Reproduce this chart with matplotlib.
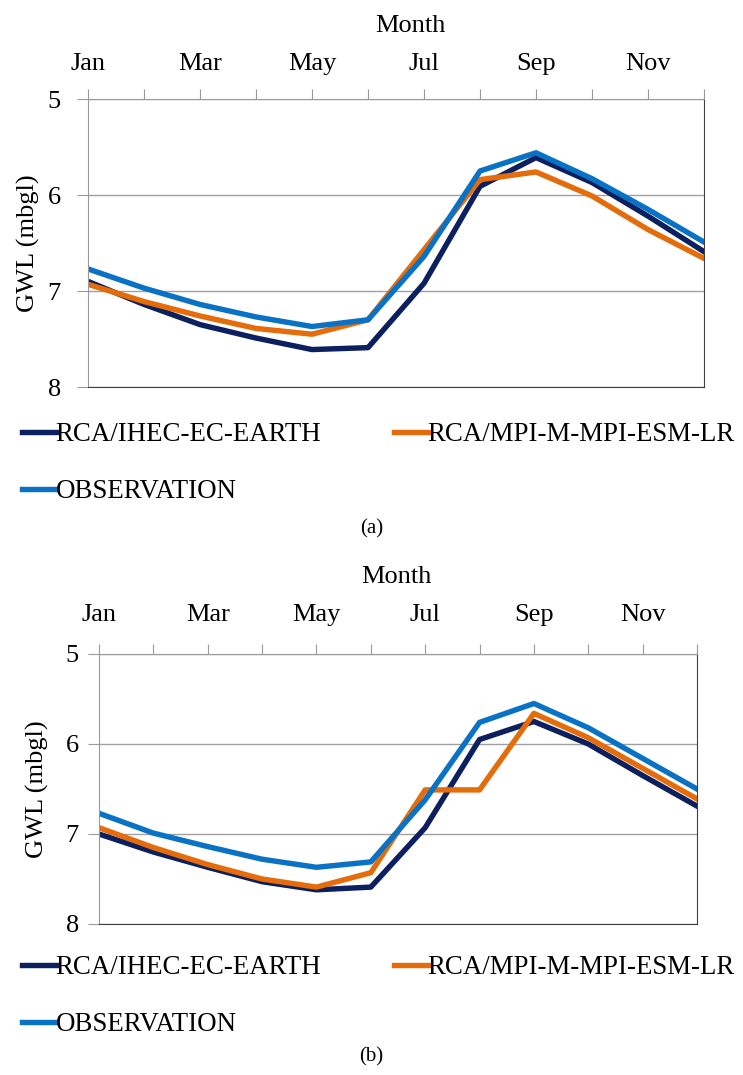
import matplotlib.pyplot as plt
import numpy as np

plt.rcParams['font.family'] = ['Liberation Serif', 'DejaVu Serif']

# --- Data ---
months = ['Jan', 'Feb', 'Mar', 'Apr', 'May', 'Jun', 'Jul', 'Aug', 'Sep', 'Oct', 'Nov', 'Dec']
month_labels = ['Jan', '', 'Mar', '', 'May', '', 'Jul', '', 'Sep', '', 'Nov', '']
series_names = ['RCA/IHEC-EC-EARTH', 'RCA/MPI-M-MPI-ESM-LR', 'OBSERVATION']

# panel (a)
ec_earth_a = [6.90, 7.14, 7.35, 7.49, 7.61, 7.59, 6.92, 5.91, 5.61, 5.87, 6.22, 6.59]
mpi_a = [6.93, 7.11, 7.26, 7.39, 7.45, 7.30, 6.57, 5.84, 5.76, 6.01, 6.36, 6.66]
obs_a = [6.77, 6.97, 7.14, 7.27, 7.37, 7.30, 6.64, 5.75, 5.56, 5.83, 6.15, 6.49]

# panel (b)
ec_earth_b = [7.00, 7.20, 7.37, 7.53, 7.62, 7.59, 6.93, 5.95, 5.75, 6.00, 6.35, 6.69]
mpi_b = [6.93, 7.15, 7.34, 7.50, 7.59, 7.43, 6.51, 6.51, 5.66, 5.93, 6.27, 6.61]
obs_b = [6.77, 6.99, 7.14, 7.28, 7.37, 7.31, 6.62, 5.76, 5.55, 5.82, 6.16, 6.50]

colors = ['#0c1f5e', '#e46c0a', '#0a72c4']

W, H = 743, 1075
fig = plt.figure(figsize=(W / 100, H / 100), dpi=100)


def fx(px):
    return px / W


def fy(py):
    return 1 - py / H


def draw_panel(box, data, ytick_pad, xtick_pad, ylabel_x, month_xy, legend_top, tag, tag_y):
    left, top, right, bottom = box
    ax = fig.add_axes([fx(left), fy(bottom), fx(right - left), (bottom - top) / H])
    x = np.arange(len(months))
    lines = []
    for vals, col, name in zip(data, colors, series_names):
        ln, = ax.plot(x, vals, color=col, linewidth=3.9, label=name)
        lines.append(ln)

    ax.set_xlim(0, 11)
    ax.set_ylim(8, 5)
    ax.set_yticks([5, 6, 7, 8])
    ax.set_xticks(x)
    ax.set_xticklabels(month_labels)
    ax.xaxis.tick_top()
    ax.tick_params(axis='x', length=7, color='#9a9a9a', labelsize=19, pad=xtick_pad)
    ax.tick_params(axis='y', length=8, color='#9a9a9a', labelsize=19, pad=ytick_pad)
    ax.grid(axis='y', color='#a0a0a0', linewidth=1)
    for s in ['top', 'left']:
        ax.spines[s].set_color('#9a9a9a')
    for s in ['bottom', 'right']:
        ax.spines[s].set_color('#404040')
    ax.set_axisbelow(True)

    fig.text(fx(ylabel_x), fy((top + bottom) / 2), 'GWL (mbgl)', rotation=90,
             ha='center', va='center', fontsize=19)
    fig.text(fx(month_xy[0]), fy(month_xy[1]), 'Month', ha='center', va='baseline',
             fontsize=19)

    # row-major legend order
    handles = [lines[0], lines[2], lines[1]]
    labels = [series_names[0], series_names[2], series_names[1]]
    fig.legend(handles, labels, loc='upper left', bbox_to_anchor=(fx(22), fy(legend_top)),
               ncol=2, frameon=False, fontsize=19.4, handlelength=1.25,
               handletextpad=0.0, columnspacing=2.7, labelspacing=1.2,
               borderaxespad=0, borderpad=0)
    fig.text(0.5, fy(tag_y), tag, ha='center', va='center', fontsize=15)


draw_panel((88, 99, 704, 387), [ec_earth_a, mpi_a, obs_a], 11.5, 10, 28, (410, 32), 422, '(a)', 529)
draw_panel((99, 654, 697, 924), [ec_earth_b, mpi_b, obs_b], 6.5, 13, 37, (396, 583), 955, '(b)', 1057)

fig.savefig('out.png', dpi=100)
